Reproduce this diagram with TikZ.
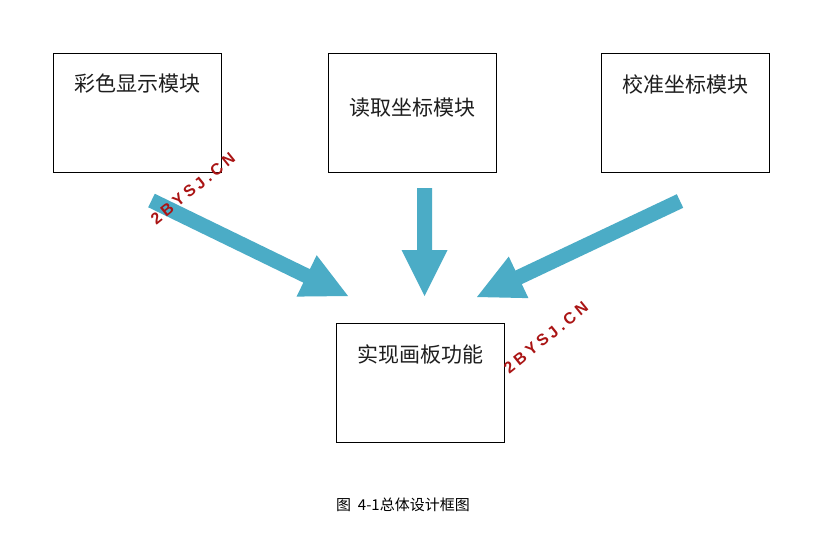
\documentclass[tikz,border=0pt]{standalone}
\usepackage{fontspec}
\newfontfamily\cjk{Noto Sans CJK SC}
\newfontfamily\wmfont[LetterSpace=22]{Liberation Sans}
\usetikzlibrary{calc}
\definecolor{arrowblue}{RGB}{75,172,198}
\definecolor{wmred}{RGB}{170,20,20}
\definecolor{txt}{RGB}{30,30,30}
\newcommand\myblockarrow[2]{%
  \coordinate (hb) at ($(#2)!46pt!(#1)$);
  \fill[arrowblue]
    ($(#1)!7.5pt!90:(#2)$) -- ($(hb)!7.5pt!-90:(#1)$) -- ($(hb)!23pt!-90:(#1)$) --
    (#2) -- ($(hb)!23pt!90:(#1)$) -- ($(hb)!7.5pt!90:(#1)$) -- ($(#1)!7.5pt!-90:(#2)$) -- cycle;}
\begin{document}
\begin{tikzpicture}[x=1pt,y=-1pt,
  box/.style={draw=black, line width=0.9pt, minimum width=168pt, minimum height=119pt, inner sep=0pt, anchor=north west},
  boxtext/.style={font=\cjk\fontsize{21}{21}\selectfont, text=txt, inner sep=0pt},
  wm/.style={font=\wmfont\bfseries\fontsize{16}{16}\selectfont, text=wmred, inner sep=0pt},
  caption/.style={font=\cjk\fontsize{15}{15}\selectfont, text=black, inner sep=0pt}]
\useasboundingbox (0,0) rectangle (826,539);
\fill[white] (0,0) rectangle (826,539);
% boxes
\node[box] (b1) at (53,53) {};
\node[box] (b2) at (328,53) {};
\node[box] (b3) at (601,53) {};
\node[box] (b4) at (336,323) {};
\node[boxtext] (t1) at ($(b1.north)+(0,31)$) {彩色显示模块};
\node[boxtext] (t2) at ($(b2.north)+(0,55)$) {读取坐标模块};
\node[boxtext] (t3) at ($(b3.north)+(0,31)$) {校准坐标模块};
\node[boxtext] (t4) at ($(b4.north)+(0,31)$) {实现画板功能};
% arrows
\coordinate (a1s) at (151.5,200.5);
\coordinate (a1e) at (348,296);
\coordinate (a2s) at (424.5,188);
\coordinate (a2e) at (424.5,296);
\coordinate (a3s) at (680,201);
\coordinate (a3e) at (477,297);
\myblockarrow{a1s}{a1e}
\myblockarrow{a2s}{a2e}
\myblockarrow{a3s}{a3e}
% watermarks
\node[wm, rotate=39] (w1) at (193,188.5) {2BYSJ.CN};
\node[wm, rotate=39] (w2) at (546,337.5) {2BYSJ.CN};
% caption
\node[caption] (cap) at (403,505) {图\hspace{0.45em}4-1总体设计框图};
\end{tikzpicture}
\end{document}
